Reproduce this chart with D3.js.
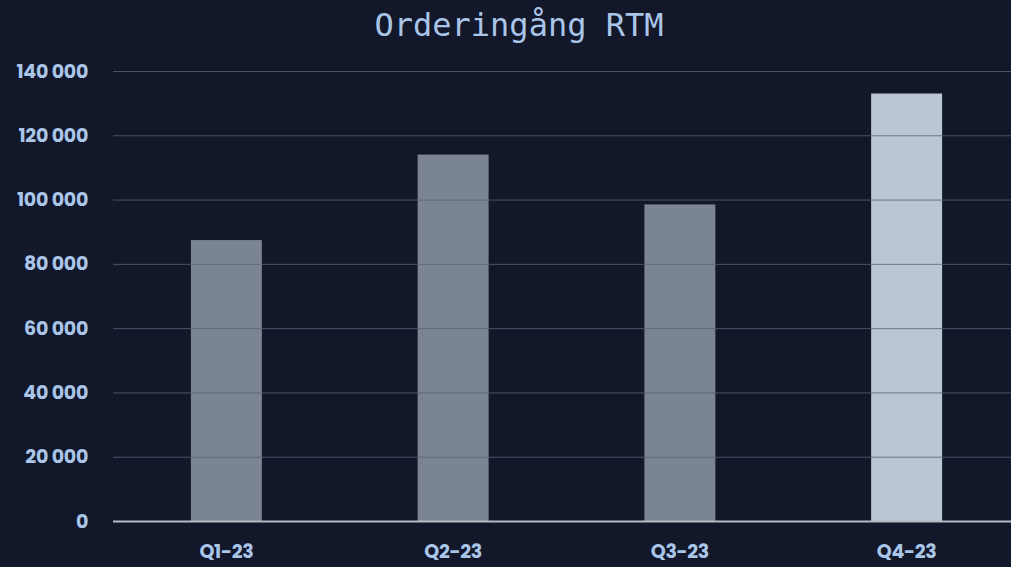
<!DOCTYPE html>
<html><head><meta charset="utf-8">
<script src="https://cdn.jsdelivr.net/npm/d3@7"></script>
<style>
html,body{margin:0;padding:0;background:#12172a;}
svg{display:block;}
</style></head>
<body>
<svg id="chart" width="1011" height="567"></svg>
<script>
const categories = ["Q1-23","Q2-23","Q3-23","Q4-23"];
const values = [87400, 114000, 98500, 133000];
const highlight = [false, false, false, true];
const yTicks = [0,20000,40000,60000,80000,100000,120000,140000];
const title = "Orderingång RTM";

const W = 1011, H = 567;
const svg = d3.select("#chart");
svg.append("rect").attr("width",W).attr("height",H).attr("fill","#12172a");

const x = d3.scaleBand().domain(categories).range([113,1020]).paddingInner(0.687).paddingOuter(0.3435);
const y = d3.scaleLinear().domain([0,140000]).range([521,71]);

const fmt = v => d3.format(",")(v).replace(/,/g," ");

svg.append("g").selectAll("rect").data(categories).join("rect")
  .attr("x", d=>x(d)).attr("width", x.bandwidth())
  .attr("y", (d,i)=>y(values[i])).attr("height",(d,i)=>y(0)-y(values[i]))
  .attr("fill",(d,i)=>highlight[i]?"#bac6d2":"#7b8492");

const yAxis = d3.axisLeft(y).tickValues(yTicks).tickSize(-(1011-113)).tickFormat(fmt).tickPadding(25);
const gy = svg.append("g").attr("transform","translate(113,0)").call(yAxis);
gy.select(".domain").remove();
gy.selectAll(".tick line").attr("stroke","#5b6172").attr("stroke-width",1).attr("opacity",0.8);
gy.selectAll(".tick").filter(d=>d===0).select("line").attr("stroke","#b5bac4").attr("stroke-width",2).attr("opacity",1);
gy.selectAll(".tick text").attr("fill","#a9c5e8").attr("font-family","Poppins, 'Open Sans', sans-serif")
  .attr("font-weight","700").attr("font-size","19px").attr("letter-spacing","-0.3px");

const xAxis = d3.axisBottom(x).tickSize(0).tickPadding(24);
const gx = svg.append("g").attr("transform","translate(0,521)").call(xAxis);
gx.select(".domain").remove();
gx.selectAll(".tick text").attr("fill","#a9c5e8").attr("font-family","Poppins, 'Open Sans', sans-serif")
  .attr("font-weight","700").attr("font-size","19px").attr("letter-spacing","-0.3px");

svg.append("text").attr("x",519).attr("y",36).attr("text-anchor","middle")
  .attr("fill","#a9c5e8").attr("font-family","'DejaVu Sans Mono', monospace")
  .attr("font-weight","300").attr("font-size","32px").text(title);
</script>
</body></html>
